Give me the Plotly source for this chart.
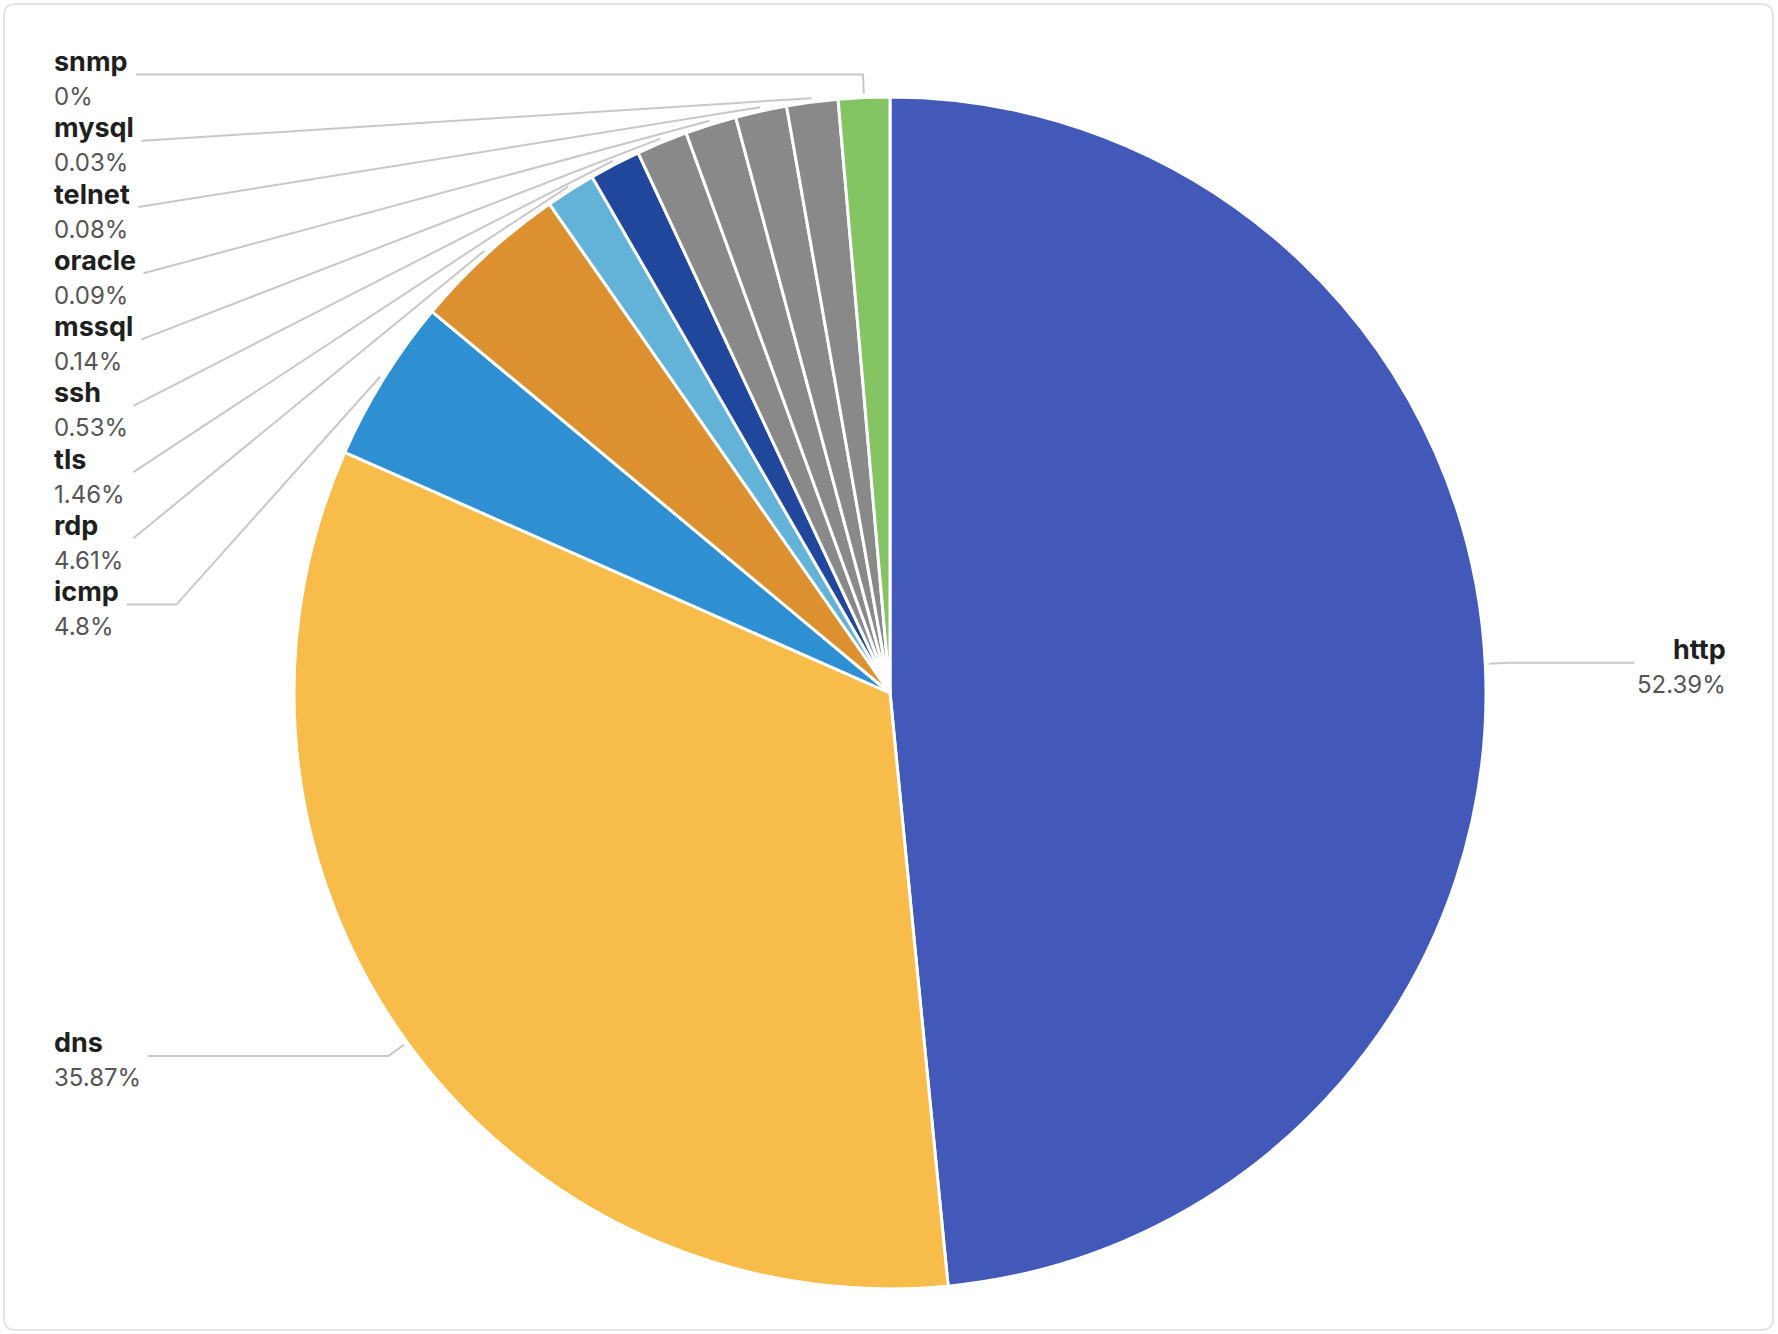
import math
import plotly.graph_objects as go

W, H = 1778, 1334

# data, in drawing order (clockwise from 12 o'clock)
names = ["http", "dns", "icmp", "rdp", "tls", "ssh", "mssql", "oracle", "telnet", "mysql", "snmp"]
percents = [52.39, 35.87, 4.8, 4.61, 1.46, 0.53, 0.14, 0.09, 0.08, 0.03, 0]
colors = ["#4359ba", "#f7bc4a", "#2e8fd3", "#dc9030", "#63b2d8", "#20479b",
          "#898989", "#898989", "#898989", "#898989", "#85c462"]

MIN_ANGLE = 5          # small slices are drawn at least this wide
cx, cy, R = 890, 693, 596
LINE_START, LINE_LEN = 4, 23
EDGE_LEFT, EDGE_RIGHT = 54, 1725
LABEL_H = 66.25
NAME_SIZE, PCT_SIZE = 27, 24
FONT = "Inter, Noto Sans, sans-serif"

BOLD_W = dict(a=.58, c=.55, d=.62, e=.58, h=.62, i=.27, l=.27, m=.92, n=.62, o=.6,
              p=.62, q=.62, r=.40, s=.54, t=.37, y=.56)


def text_width(s, size, bold=False):
    w = 0
    for ch in s:
        if bold:
            w += BOLD_W.get(ch, .6)
        elif ch == ".":
            w += .27
        elif ch == "%":
            w += .86
        else:
            w += .6
    return w * size


def slice_angles(values, min_angle):
    # same idea as echarts minAngle: clamp small ones, share the rest
    unit = 360 / sum(values)
    rest = 360
    big_sum = 0
    clamped = []
    for v in values:
        if v * unit < min_angle:
            clamped.append(True)
            rest -= min_angle
        else:
            clamped.append(False)
            big_sum += v
    unit = rest / big_sum
    return [min_angle if c else v * unit for v, c in zip(values, clamped)]


def norm(v):
    l = math.hypot(v[0], v[1])
    if l < 1e-3:
        return (0, 0), l
    return (v[0] / l, v[1] / l), l


def project(a, b, p):
    vx, vy = b[0] - a[0], b[1] - a[1]
    t = ((p[0] - a[0]) * vx + (p[1] - a[1]) * vy) / (vx * vx + vy * vy)
    q = (a[0] + t * vx, a[1] + t * vy)
    return math.hypot(p[0] - q[0], p[1] - q[1]), q


def clamp_on(q, a, b):
    t = (q[0] - a[0]) / (b[0] - a[0]) if b[0] != a[0] else (q[1] - a[1]) / (b[1] - a[1])
    if t < 0:
        return a
    if t > 1:
        return b
    return q


def limit_turn(pts, min_turn):
    p0, p1, p2 = pts
    d1, l1 = norm((p0[0] - p1[0], p0[1] - p1[1]))
    d2, l2 = norm((p2[0] - p1[0], p2[1] - p1[1]))
    if l1 < 1e-3 or l2 < 1e-3:
        return
    ang = math.radians(min_turn)
    if math.cos(ang) < d1[0] * d2[0] + d1[1] * d2[1]:
        d, q = project(p1, p2, p0)
        k = d / math.tan(math.pi - ang)
        q = (q[0] + d2[0] * k, q[1] + d2[1] * k)
        pts[1] = clamp_on(q, p1, p2)


def limit_surface(pts, normal, max_angle):
    p0, p1, p2 = pts
    d1, l1 = norm((p1[0] - p0[0], p1[1] - p0[1]))
    d2, l2 = norm((p2[0] - p1[0], p2[1] - p1[1]))
    if l1 < 1e-3 or l2 < 1e-3:
        return
    ang = math.radians(max_angle)
    if d1[0] * normal[0] + d1[1] * normal[1] < math.cos(ang):
        d, q = project(p1, p2, p0)
        angle2 = math.acos(max(-1, min(1, d2[0] * normal[0] + d2[1] * normal[1])))
        new_angle = math.pi / 2 + angle2 - ang
        if new_angle >= math.pi / 2:
            q = p2
        else:
            k = d / math.tan(math.pi / 2 - new_angle)
            q = clamp_on((q[0] + d2[0] * k, q[1] + d2[1] * k), p1, p2)
        pts[1] = q


angles = slice_angles(percents, MIN_ANGLE)

# label anchors
items = []
start = 0
for name, pct, ang in zip(names, percents, angles):
    mid = math.radians(start + ang / 2)
    start += ang
    dx, dy = math.sin(mid), -math.cos(mid)
    items.append(dict(
        name=name, pct=f"{pct:g}%", dir=(dx, dy),
        p0=(cx + (R + LINE_START) * dx, cy + (R + LINE_START) * dy),
        p1=(cx + (R + LINE_LEN) * dx, cy + (R + LINE_LEN) * dy),
        left=dx < 0,
    ))
    items[-1]["y"] = items[-1]["p1"][1]

# push overlapping labels down, each side on its own
for side in (True, False):
    group = sorted([it for it in items if it["left"] == side], key=lambda it: it["y"])
    prev = None
    for it in group:
        if prev is not None and it["y"] < prev + LABEL_H:
            it["y"] = prev + LABEL_H
        prev = it["y"]

fig = go.Figure()

annotations = []
for it in items:
    w = max(text_width(it["name"], NAME_SIZE, True), text_width(it["pct"], PCT_SIZE))
    y = it["y"]
    if it["left"]:
        x2 = EDGE_LEFT + w + 9
        tx, anchor = EDGE_LEFT - 2, "left"
    else:
        x2 = EDGE_RIGHT - w - 6
        tx, anchor = EDGE_RIGHT + 3, "right"
    pts = [it["p0"], (it["p1"][0], y), (x2, y)]
    limit_turn(pts, 90)
    limit_surface(pts, it["dir"], 80)

    fig.add_trace(go.Scatter(
        x=[p[0] for p in pts], y=[p[1] for p in pts],
        mode="lines", line=dict(color="#c8c8c8", width=2),
        hoverinfo="skip", showlegend=False,
    ))
    annotations.append(dict(
        x=tx, y=y - 13, xref="x", yref="y", xanchor=anchor, yanchor="middle",
        text=f"<b>{it['name']}</b>", showarrow=False,
        font=dict(family=FONT, size=NAME_SIZE, color="#1f1f1f"),
    ))
    annotations.append(dict(
        x=tx, y=y + 22, xref="x", yref="y", xanchor=anchor, yanchor="middle",
        text=it["pct"], showarrow=False,
        font=dict(family=FONT, size=PCT_SIZE, color="#555555"),
    ))

fig.add_trace(go.Pie(
    labels=names,
    values=angles,
    sort=False,
    direction="clockwise",
    rotation=0,
    marker=dict(colors=colors, line=dict(color="white", width=3)),
    textinfo="none",
    hoverinfo="skip",
    showlegend=False,
    domain=dict(x=[(cx - R) / W, (cx + R) / W], y=[1 - (cy + R) / H, 1 - (cy - R) / H]),
))

# rounded card border
x0, y0, x1, y1, r = 4, 4, W - 5, H - 4, 12
border = (f"M {x0 + r},{y0} L {x1 - r},{y0} Q {x1},{y0} {x1},{y0 + r} "
          f"L {x1},{y1 - r} Q {x1},{y1} {x1 - r},{y1} L {x0 + r},{y1} "
          f"Q {x0},{y1} {x0},{y1 - r} L {x0},{y0 + r} Q {x0},{y0} {x0 + r},{y0} Z")

fig.update_layout(
    width=W, height=H,
    margin=dict(l=0, r=0, t=0, b=0),
    paper_bgcolor="white", plot_bgcolor="white",
    xaxis=dict(range=[0, W], visible=False, fixedrange=True),
    yaxis=dict(range=[H, 0], visible=False, fixedrange=True),
    annotations=annotations,
    shapes=[dict(type="path", path=border, xref="x", yref="y",
                 line=dict(color="#e4e4e4", width=2), layer="below")],
    font=dict(family=FONT),
)

fig.write_html("out.html", config={"displayModeBar": False},
               post_script="document.body.style.margin='0';document.body.style.overflow='hidden';")
